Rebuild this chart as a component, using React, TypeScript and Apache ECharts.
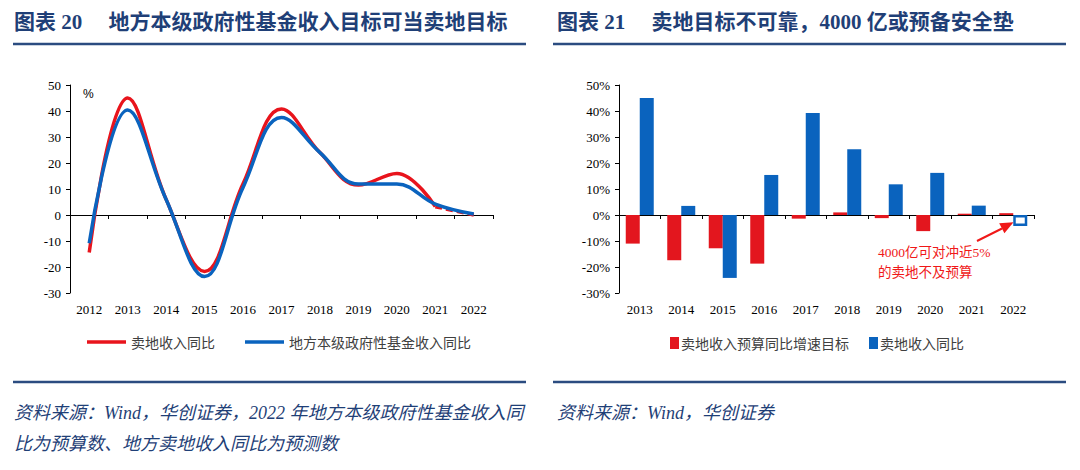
import React, { useEffect, useRef } from 'react';
import * as echarts from 'echarts';

// ---------- data ----------
const lineYears = ['2012', '2013', '2014', '2015', '2016', '2017', '2018', '2019', '2020', '2021', '2022'];
const landSalesYoY = [-14.4, 45, 6, -21.7, 12, 40.8, 24, 11.5, 16, 3.2, 0];
const fundRevenueYoY = [-10.9, 40.4, 6, -23.7, 10.6, 37.5, 24, 11.9, 11.9, 4.2, 0.4];
const forecastStartIndex = 9; // 2021 -> 2022 is dashed (forecast)

const barYears = ['2013', '2014', '2015', '2016', '2017', '2018', '2019', '2020', '2021', '2022'];
const landBudgetTarget = [-11, -17.4, -12.8, -18.7, -1.4, 1, -1.2, -6.2, 0.5, 0.7];
const landSalesActual = [45, 3.5, -24.2, 15.4, 39.2, 25.3, 11.8, 16.2, 3.6, -4.2];

const yMin = -30;
const yMax = 50;
const yStep = 10;

// ---------- styles ----------
const NAVY = '#1F3F77';
const RULE = '#2B4C80';
const RED = '#E8141C';
const BLUE = '#0A63BE';
const SERIF = '"Liberation Serif", "Noto Sans CJK SC", serif';
const CJK = '"Noto Sans CJK SC", sans-serif';

function frame(title: string, notes: string[], titleX: number) {
  const els: any[] = [
    {
      type: 'text',
      style: {
        text: title,
        x: titleX,
        y: 22,
        verticalAlign: 'middle',
        fontSize: 21,
        fontWeight: 'bold',
        fontFamily: SERIF,
        fill: NAVY,
      },
    },
    { type: 'line', shape: { x1: 13, y1: 44, x2: 526, y2: 44 }, style: { stroke: RULE, lineWidth: 2.5 } },
    { type: 'line', shape: { x1: 13, y1: 382, x2: 526, y2: 382 }, style: { stroke: RULE, lineWidth: 2.5 } },
  ];
  notes.forEach((n, i) => {
    els.push({
      type: 'text',
      style: {
        text: n,
        x: titleX,
        y: 413 + i * 31,
        verticalAlign: 'middle',
        fontSize: 18,
        fontStyle: 'italic',
        fontFamily: SERIF,
        fill: NAVY,
      },
    });
  });
  return els;
}

function yAxisCfg(fmt: string) {
  return {
    type: 'value',
    min: yMin,
    max: yMax,
    interval: yStep,
    axisLine: { show: true, lineStyle: { color: '#000', width: 1 } },
    axisTick: { show: true, length: 4, lineStyle: { color: '#000' } },
    splitLine: { show: false },
    axisLabel: { formatter: fmt, fontSize: 13, fontFamily: SERIF, color: '#000', margin: 9 },
  };
}

function xAxisCfg(data: string[]) {
  return {
    type: 'category',
    data,
    boundaryGap: true,
    axisLine: { onZero: true, lineStyle: { color: '#000', width: 1 } },
    axisTick: { show: true, length: 4, lineStyle: { color: '#000' } },
    axisLabel: { interval: 0, fontSize: 13, fontFamily: SERIF, color: '#000', margin: 10 },
  };
}

function leftOption(): any {
  const solid = landSalesYoY.map((v, i) => (i <= forecastStartIndex ? v : null));
  const dashed = landSalesYoY.map((v, i) => (i >= forecastStartIndex ? v : null));
  return {
    animation: false,
    grid: { left: 70, top: 85, width: 423, height: 208 },
    xAxis: xAxisCfg(lineYears),
    yAxis: yAxisCfg('{value}'),
    legend: {
      data: ['卖地收入同比', '地方本级政府性基金收入同比'],
      left: 82,
      top: 330,
      icon: 'rect',
      itemWidth: 39,
      itemHeight: 3.5,
      itemGap: 30,
      textStyle: { fontSize: 14, color: '#404040', fontFamily: CJK },
    },
    series: [
      {
        name: '卖地收入同比',
        type: 'line',
        data: solid,
        smooth: 0.4,
        symbol: 'none',
        lineStyle: { color: RED, width: 3.5 },
        itemStyle: { color: RED },
        z: 2,
      },
      {
        name: '卖地收入同比',
        type: 'line',
        data: dashed,
        smooth: 0.4,
        symbol: 'none',
        lineStyle: { color: RED, width: 3.5, type: [7, 4] },
        itemStyle: { color: RED },
        z: 2,
      },
      {
        name: '地方本级政府性基金收入同比',
        type: 'line',
        data: fundRevenueYoY,
        smooth: 0.4,
        symbol: 'none',
        lineStyle: { color: BLUE, width: 3.5 },
        itemStyle: { color: BLUE },
        z: 3,
      },
    ],
    graphic: [
      ...frame('图表 20     地方本级政府性基金收入目标可当卖地目标', [
        '资料来源：Wind，华创证券，2022 年地方本级政府性基金收入同',
        '比为预算数、地方卖地收入同比为预测数',
      ], 14),
      {
        type: 'text',
        style: { text: '%', x: 83, y: 94, verticalAlign: 'middle', fontSize: 12, fontFamily: '"Liberation Sans", sans-serif', fill: '#000' },
      },
    ],
  };
}

function rightOption(): any {
  const last = landSalesActual.length - 1;
  const actual = landSalesActual.map((v, i) =>
    i === last
      ? { value: v, itemStyle: { color: '#fff', borderColor: BLUE, borderWidth: 2.5 } }
      : v
  );
  return {
    animation: false,
    grid: { left: 79, top: 85, width: 415, height: 208 },
    xAxis: xAxisCfg(barYears),
    yAxis: yAxisCfg('{value}%'),
    legend: {
      data: ['卖地收入预算同比增速目标', '卖地收入同比'],
      left: 125,
      top: 331,
      icon: 'rect',
      itemWidth: 9,
      itemHeight: 12,
      itemGap: 20,
      textStyle: { fontSize: 14, color: '#404040', fontFamily: CJK, padding: [0, 0, 0, -3] },
    },
    series: [
      {
        name: '卖地收入预算同比增速目标',
        type: 'bar',
        data: landBudgetTarget,
        barWidth: 14,
        barGap: '0%',
        itemStyle: { color: '#E3161E' },
      },
      {
        name: '卖地收入同比',
        type: 'bar',
        data: actual,
        barWidth: 14,
        itemStyle: { color: BLUE },
      },
    ],
    graphic: [
      ...frame('图表 21     卖地目标不可靠，4000 亿或预备安全垫', ['资料来源：Wind，华创证券'], 17),
      {
        type: 'text',
        style: { text: '4000亿可对冲近5%', x: 338, y: 252, verticalAlign: 'middle', fontSize: 13.5, fontFamily: SERIF, fill: '#F01818' },
      },
      {
        type: 'text',
        style: { text: '的卖地不及预算', x: 338, y: 272, verticalAlign: 'middle', fontSize: 13.5, fontFamily: SERIF, fill: '#F01818' },
      },
      {
        type: 'line',
        shape: { x1: 437, y1: 241, x2: 462, y2: 228.5 },
        style: { stroke: '#F01818', lineWidth: 2 },
      },
      {
        type: 'polygon',
        shape: { points: [[473.5, 222.3], [464.4, 233.2], [459.2, 223.3]] },
        style: { fill: '#F01818' },
      },
    ],
  };
}

function ChartBox({ left, build }: { left: number; build: () => any }) {
  const ref = useRef<HTMLDivElement>(null);
  useEffect(() => {
    if (!ref.current) return;
    const chart = echarts.init(ref.current, undefined, { renderer: 'svg' });
    chart.setOption(build());
    return () => chart.dispose();
  }, []);
  return <div ref={ref} style={{ position: 'absolute', left, top: 0, width: 540, height: 470 }} />;
}

export default function App() {
  return (
    <div style={{ position: 'absolute', left: 0, top: 0, width: 1080, height: 470, background: '#fff' }}>
      <ChartBox left={0} build={leftOption} />
      <ChartBox left={540} build={rightOption} />
    </div>
  );
}
